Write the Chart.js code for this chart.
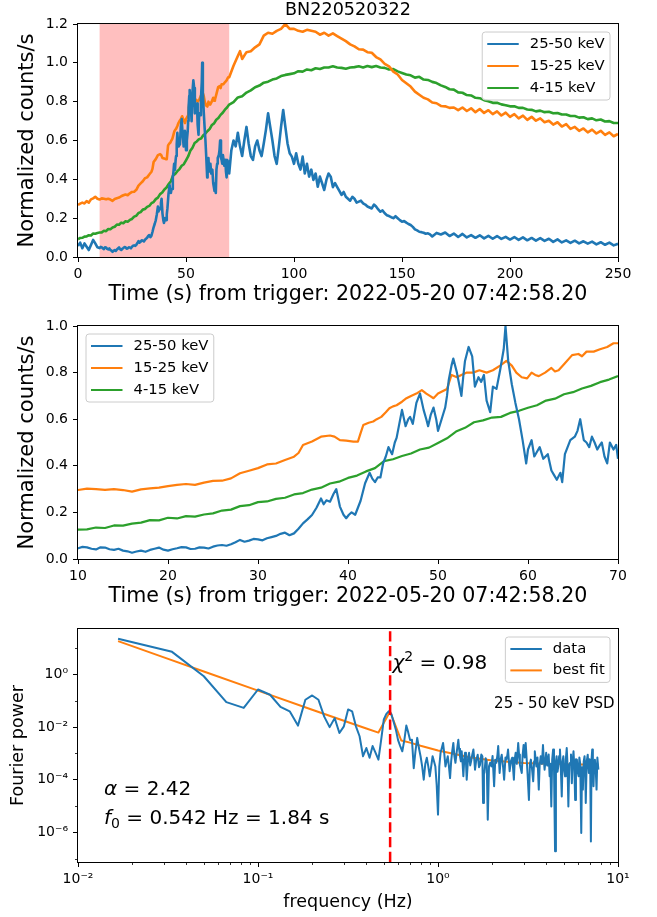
<!DOCTYPE html>
<html>
<head>
<meta charset="utf-8">
<title>BN220520322</title>
<script src="https://cdn.jsdelivr.net/npm/chart.js@4.4.1/dist/chart.umd.min.js"></script>
<style>
  html, body { margin: 0; padding: 0; background: #fff; }
  #page { position: relative; width: 657px; height: 917px; overflow: hidden; }
  canvas { position: absolute; left: 0; }
</style>
</head>
<body>
<div id="page">
  <canvas id="lcFull" width="657" height="310" style="top:0"></canvas>
  <canvas id="lcZoom" width="657" height="310" style="top:302px"></canvas>
  <canvas id="psd" width="657" height="312" style="top:605px"></canvas>
</div>
<script>
const burstName = 'BN220520322';
const triggerTime = '2022-05-20 07:42:58.20';
const bandLabels = ['25-50 keV', '15-25 keV', '4-15 keV'];
const psdLabels = ['data', 'best fit'];

// 25-50 keV light curve
const hardTime = [
  0, 1, 2, 3, 4, 5, 6, 7, 8, 9,
  10, 10.5, 11, 11.5, 12, 12.5, 13, 13.5, 14, 14.5,
  15, 15.5, 16, 16.5, 17, 17.5, 18, 18.5, 19, 19.5,
  20, 20.5, 21, 21.5, 22, 22.5, 23, 23.5, 24, 24.5,
  25, 25.5, 26, 26.5, 27, 27.5, 28, 28.5, 29, 29.5,
  30, 30.5, 31, 31.5, 32, 32.5, 33, 33.5, 34, 34.5,
  35, 35.5, 36, 36.5, 37, 37.3, 37.6, 38, 38.4, 38.7,
  39.1, 39.5, 39.8, 40.1, 40.4, 40.8, 41.1, 41.4, 41.9, 42.4,
  42.7, 43, 43.3, 43.6, 43.9, 44.2, 44.5, 44.9, 45.2, 45.4,
  45.7, 46, 46.4, 46.7, 46.9, 47.2, 47.6, 48, 48.4, 48.7,
  48.9, 49.2, 49.5, 49.8, 50, 50.4, 50.8, 51, 51.2, 51.5,
  51.7, 52.1, 52.4, 52.6, 52.8, 53, 53.4, 53.8, 54.1, 54.5,
  54.8, 55.1, 55.4, 55.8, 56.1, 56.5, 56.9, 57.3, 57.5, 57.8,
  58.2, 58.6, 59, 59.4, 59.8, 60, 60.4, 60.7, 61, 61.3,
  61.7, 62.2, 62.6, 62.9, 63.2, 63.6, 63.8, 64.1, 64.4, 64.7,
  65.2, 65.5, 65.8, 66.2, 66.5, 66.8, 67.1, 67.4, 67.7, 68,
  68.2, 68.5, 68.8, 69.1, 69.5, 69.8, 70, 71, 72, 73,
  74, 75, 76, 77, 78, 79, 80, 81, 82, 83,
  84, 85, 86, 87, 88, 89, 90, 91, 92, 93,
  94, 95, 96, 97, 98, 99, 100, 101, 102, 103,
  104, 105, 106, 107, 108, 109, 110, 111, 112, 113,
  114, 115, 116, 117, 118, 119, 120, 121, 122, 123,
  124, 125, 126, 127, 128, 129, 130, 131, 132, 133,
  134, 135, 136, 137, 138, 139, 140, 141, 142, 143,
  144, 145, 146, 147, 148, 149, 150, 151, 152, 153,
  154, 155, 156, 157, 158, 159, 160, 161, 162, 163,
  164, 166, 168, 170, 172, 174, 176, 178, 180, 182,
  184, 186, 188, 190, 192, 194, 196, 198, 200, 202,
  204, 206, 208, 210, 212, 214, 216, 218, 220, 222,
  224, 226, 228, 230, 232, 234, 236, 238, 240, 242,
  244, 246, 248, 250
];
const hardRate = [
  0.057, 0.074, 0.045, 0.070, 0.053, 0.036, 0.062, 0.088, 0.070, 0.050,
  0.046, 0.052, 0.050, 0.044, 0.041, 0.050, 0.049, 0.042, 0.039, 0.044,
  0.036, 0.033, 0.027, 0.032, 0.036, 0.031, 0.039, 0.044, 0.049, 0.040,
  0.036, 0.042, 0.046, 0.051, 0.050, 0.043, 0.044, 0.050, 0.049, 0.045,
  0.053, 0.058, 0.060, 0.057, 0.063, 0.072, 0.082, 0.074, 0.079, 0.086,
  0.084, 0.080, 0.089, 0.094, 0.099, 0.108, 0.113, 0.102, 0.110, 0.130,
  0.153, 0.170, 0.189, 0.220, 0.260, 0.235, 0.252, 0.246, 0.280, 0.300,
  0.225, 0.190, 0.175, 0.190, 0.200, 0.190, 0.220, 0.250, 0.325, 0.370,
  0.345, 0.330, 0.350, 0.350, 0.410, 0.440, 0.480, 0.450, 0.500, 0.520,
  0.580, 0.640, 0.570, 0.600, 0.610, 0.580, 0.670, 0.710, 0.640, 0.600,
  0.570, 0.620, 0.650, 0.600, 0.550, 0.600, 0.650, 0.700, 0.770, 0.830,
  0.860, 0.800, 0.740, 0.700, 0.780, 0.850, 0.910, 0.870, 0.740, 0.780,
  0.760, 0.790, 0.680, 0.630, 0.740, 0.730, 0.810, 0.900, 1.000, 0.850,
  0.750, 0.670, 0.600, 0.510, 0.410, 0.470, 0.510, 0.440, 0.460, 0.480,
  0.430, 0.450, 0.380, 0.360, 0.340, 0.370, 0.330, 0.450, 0.480, 0.510,
  0.525, 0.550, 0.600, 0.510, 0.500, 0.480, 0.525, 0.500, 0.470, 0.490,
  0.500, 0.440, 0.410, 0.500, 0.470, 0.490, 0.430, 0.550, 0.600, 0.570,
  0.640, 0.570, 0.520, 0.600, 0.670, 0.585, 0.520, 0.500, 0.570, 0.600,
  0.550, 0.520, 0.585, 0.655, 0.740, 0.670, 0.600, 0.520, 0.480, 0.570,
  0.670, 0.757, 0.670, 0.585, 0.534, 0.517, 0.480, 0.534, 0.480, 0.450,
  0.517, 0.430, 0.480, 0.414, 0.450, 0.397, 0.430, 0.362, 0.414, 0.380,
  0.345, 0.397, 0.430, 0.414, 0.360, 0.380, 0.360, 0.340, 0.320, 0.335,
  0.310, 0.300, 0.290, 0.310, 0.300, 0.280, 0.285, 0.290, 0.276, 0.270,
  0.260, 0.255, 0.250, 0.270, 0.260, 0.245, 0.233, 0.240, 0.225, 0.215,
  0.211, 0.205, 0.200, 0.210, 0.200, 0.190, 0.182, 0.185, 0.177, 0.170,
  0.165, 0.155, 0.142, 0.137, 0.130, 0.128, 0.125, 0.120, 0.122, 0.116,
  0.106, 0.124, 0.116, 0.126, 0.108, 0.121, 0.103, 0.119, 0.101, 0.113,
  0.099, 0.112, 0.096, 0.109, 0.094, 0.108, 0.093, 0.104, 0.090, 0.103,
  0.088, 0.101, 0.086, 0.098, 0.084, 0.097, 0.083, 0.094, 0.078, 0.091,
  0.075, 0.086, 0.073, 0.084, 0.070, 0.081, 0.069, 0.079, 0.065, 0.076,
  0.063, 0.074, 0.060, 0.068
];

// 15-25 keV light curve
const midTime = [
  0, 1, 2, 3, 4, 5, 6, 7, 8, 9,
  10, 11, 12, 13, 14, 15, 16, 17, 18, 19,
  20, 21, 22, 23, 24, 25, 26, 27, 28, 29,
  30, 31, 32, 33, 34, 34.5, 35, 36, 37, 38,
  38.5, 39.1, 39.8, 40.6, 41.1, 41.4, 41.7, 42.3, 42.8, 43.2,
  43.7, 44.2, 44.6, 45, 45.4, 46, 46.5, 47, 47.6, 48.2,
  48.7, 49.1, 49.5, 50, 50.5, 51, 51.5, 52.1, 52.6, 53.2,
  53.9, 54.6, 55.4, 56.1, 56.9, 57.6, 58.2, 58.7, 59.3, 59.9,
  60.4, 60.8, 61.2, 61.9, 62.6, 63, 63.4, 64.1, 64.9, 65.6,
  66, 66.5, 67.3, 68, 68.8, 69.5, 70, 72, 74, 75,
  76, 78, 80, 82, 84, 86, 88, 90, 92, 94,
  96, 98, 100, 102, 104, 106, 108, 110, 112, 114,
  116, 118, 120, 122, 124, 126, 128, 130, 132, 134,
  136, 138, 140, 142, 144, 146, 148, 150, 152, 154,
  156, 158, 160, 162, 164, 166, 168, 170, 172, 174,
  176, 178, 180, 182, 184, 186, 188, 190, 192, 194,
  196, 198, 200, 202, 204, 206, 208, 210, 212, 214,
  216, 218, 220, 222, 224, 226, 228, 230, 232, 234,
  236, 238, 240, 242, 244, 246, 248, 250
];
const midRate = [
  0.268, 0.275, 0.280, 0.276, 0.288, 0.280, 0.297, 0.302, 0.310, 0.300,
  0.296, 0.302, 0.300, 0.297, 0.300, 0.296, 0.289, 0.299, 0.303, 0.306,
  0.313, 0.318, 0.322, 0.318, 0.328, 0.335, 0.336, 0.346, 0.368, 0.379,
  0.390, 0.406, 0.410, 0.425, 0.439, 0.455, 0.489, 0.504, 0.525, 0.530,
  0.525, 0.510, 0.508, 0.504, 0.504, 0.540, 0.575, 0.585, 0.590, 0.600,
  0.610, 0.630, 0.647, 0.655, 0.660, 0.675, 0.690, 0.700, 0.710, 0.725,
  0.710, 0.700, 0.690, 0.710, 0.720, 0.730, 0.790, 0.780, 0.790, 0.800,
  0.800, 0.810, 0.800, 0.810, 0.830, 0.850, 0.830, 0.800, 0.780, 0.775,
  0.800, 0.790, 0.785, 0.800, 0.820, 0.805, 0.810, 0.840, 0.875, 0.880,
  0.870, 0.890, 0.890, 0.900, 0.910, 0.926, 0.926, 0.985, 1.035, 1.060,
  1.020, 1.055, 1.060, 1.080, 1.095, 1.140, 1.155, 1.150, 1.165, 1.175,
  1.200, 1.175, 1.175, 1.165, 1.160, 1.170, 1.165, 1.160, 1.145, 1.155,
  1.140, 1.152, 1.138, 1.125, 1.112, 1.095, 1.085, 1.070, 1.068, 1.055,
  1.052, 1.030, 1.018, 0.995, 0.982, 0.955, 0.940, 0.912, 0.895, 0.878,
  0.852, 0.836, 0.820, 0.812, 0.796, 0.792, 0.778, 0.776, 0.768, 0.770,
  0.756, 0.770, 0.752, 0.766, 0.746, 0.762, 0.742, 0.756, 0.736, 0.750,
  0.729, 0.744, 0.722, 0.736, 0.714, 0.728, 0.706, 0.722, 0.702, 0.714,
  0.694, 0.702, 0.682, 0.694, 0.672, 0.684, 0.660, 0.670, 0.650, 0.662,
  0.642, 0.656, 0.636, 0.650, 0.629, 0.642, 0.622, 0.634
];

// 4-15 keV light curve
const softTime = [
  0, 1, 2, 3, 4, 5, 6, 7, 8, 9,
  10, 11, 12, 13, 14, 15, 16, 17, 18, 19,
  20, 21, 22, 23, 24, 25, 26, 27, 28, 29,
  30, 31, 32, 33, 34, 35, 36, 37, 38, 39,
  40, 41, 42, 43, 44, 45, 46, 47, 48, 49,
  50, 51, 52, 53, 54, 55, 56, 57, 58, 59,
  60, 61, 62, 63, 64, 65, 66, 67, 68, 69,
  70, 72, 74, 76, 78, 80, 82, 84, 86, 88,
  90, 92, 94, 96, 98, 100, 102, 104, 106, 108,
  110, 112, 114, 116, 118, 120, 122, 124, 126, 128,
  130, 132, 134, 136, 138, 140, 142, 144, 146, 148,
  150, 152, 154, 156, 158, 160, 162, 164, 166, 168,
  170, 172, 174, 176, 178, 180, 182, 184, 186, 188,
  190, 192, 194, 196, 198, 200, 202, 204, 206, 208,
  210, 212, 214, 216, 218, 220, 222, 224, 226, 228,
  230, 232, 234, 236, 238, 240, 242, 244, 246, 248, 250
];
const softRate = [
  0.091, 0.098, 0.099, 0.105, 0.106, 0.112, 0.111, 0.121, 0.120, 0.124,
  0.126, 0.127, 0.135, 0.133, 0.144, 0.143, 0.152, 0.156, 0.167, 0.166,
  0.177, 0.174, 0.184, 0.182, 0.191, 0.196, 0.208, 0.212, 0.227, 0.231,
  0.244, 0.247, 0.258, 0.263, 0.277, 0.283, 0.298, 0.306, 0.324, 0.332,
  0.348, 0.358, 0.376, 0.390, 0.420, 0.428, 0.442, 0.453, 0.470, 0.478,
  0.498, 0.518, 0.547, 0.563, 0.587, 0.595, 0.607, 0.610, 0.627, 0.636,
  0.649, 0.660, 0.680, 0.688, 0.707, 0.716, 0.732, 0.743, 0.759, 0.770,
  0.785, 0.798, 0.822, 0.828, 0.847, 0.858, 0.874, 0.883, 0.898, 0.903,
  0.914, 0.920, 0.932, 0.938, 0.942, 0.946, 0.957, 0.955, 0.966, 0.962,
  0.972, 0.968, 0.976, 0.976, 0.982, 0.976, 0.974, 0.970, 0.976, 0.978,
  0.982, 0.976, 0.984, 0.978, 0.984, 0.976, 0.974, 0.966, 0.968, 0.956,
  0.948, 0.940, 0.936, 0.924, 0.928, 0.914, 0.912, 0.902, 0.896, 0.884,
  0.876, 0.864, 0.862, 0.848, 0.846, 0.834, 0.832, 0.820, 0.818, 0.808,
  0.802, 0.794, 0.794, 0.786, 0.782, 0.776, 0.776, 0.768, 0.768, 0.760,
  0.758, 0.750, 0.754, 0.746, 0.748, 0.740, 0.742, 0.734, 0.734, 0.726,
  0.726, 0.718, 0.720, 0.710, 0.714, 0.704, 0.708, 0.698, 0.700, 0.690, 0.690
];

// power spectrum of the 25-50 keV band, 10-70 s window
const psdFreq = [
  0.0167, 0.0333, 0.05, 0.0667, 0.0833, 0.1, 0.1167, 0.1333, 0.15, 0.1667,
  0.1833, 0.2, 0.2167, 0.2333, 0.25, 0.2667, 0.2833, 0.3, 0.3167, 0.3333,
  0.35, 0.3667, 0.3833, 0.4, 0.4167, 0.4333, 0.45, 0.4667, 0.4833, 0.5,
  0.5167, 0.5333, 0.55, 0.5667, 0.5833, 0.6, 0.6167, 0.6333, 0.65, 0.6667,
  0.6833, 0.7, 0.7167, 0.7333, 0.75, 0.7667, 0.7833, 0.8, 0.8167, 0.8333,
  0.85, 0.8667, 0.8833, 0.9, 0.9167, 0.9333, 0.95, 0.9667, 0.9833, 1.0,
  1.0167, 1.0333, 1.05, 1.0667, 1.0833, 1.1, 1.1167, 1.1333, 1.15, 1.1667,
  1.1833, 1.2, 1.2167, 1.2333, 1.25, 1.27, 1.297, 1.31, 1.325, 1.34,
  1.354, 1.37, 1.383, 1.40, 1.413, 1.43, 1.444, 1.47, 1.488, 1.51,
  1.527, 1.55, 1.573, 1.59, 1.606, 1.63, 1.662, 1.69, 1.712, 1.74,
  1.764, 1.78, 1.80, 1.81, 1.84, 1.865, 1.89, 1.92, 1.948, 1.98,
  2.01, 2.05, 2.08, 2.11, 2.14, 2.16, 2.2, 2.23, 2.26, 2.30,
  2.33, 2.37, 2.40, 2.43, 2.45, 2.50, 2.54, 2.58, 2.61, 2.64,
  2.67, 2.70, 2.74, 2.79, 2.82, 2.85, 2.92, 2.95, 2.99, 3.03,
  3.07, 3.11, 3.15, 3.20, 3.24, 3.28, 3.33, 3.38, 3.42, 3.45,
  3.52, 3.57, 3.63, 3.67, 3.72, 3.78, 3.83, 3.87, 3.91, 3.95,
  3.99, 4.04, 4.08, 4.12, 4.17, 4.21, 4.26, 4.31, 4.36, 4.41,
  4.47, 4.52, 4.56, 4.61, 4.66, 4.71, 4.76, 4.81, 4.87, 4.92,
  4.97, 5.02, 5.08, 5.13, 5.19, 5.24, 5.30, 5.36, 5.42, 5.48,
  5.54, 5.60, 5.66, 5.72, 5.78, 5.84, 5.91, 5.97, 6.04, 6.10,
  6.17, 6.25, 6.31, 6.38, 6.45, 6.52, 6.57, 6.62, 6.70, 6.79,
  6.84, 6.89, 6.95, 7.01, 7.07, 7.13, 7.19, 7.25, 7.31, 7.37,
  7.44, 7.52, 7.60, 7.68, 7.78
];
const psdPower = [
  23, 7.3, 0.86, 0.089, 0.054, 0.27, 0.17, 0.059, 0.040, 0.0114,
  0.11, 0.16, 0.11, 0.025, 0.010, 0.022, 0.006, 0.0107, 0.047, 0.04,
  0.0107, 0.0045, 7.8e-4, 1.6e-3, 6.8e-4, 1.9e-3, 1.05e-3, 5.8e-4, 3.3e-3, 0.0195,
  0.032, 0.04, 0.032, 0.016, 0.008, 3.2e-3, 1.9e-3, 1.2e-3, 3.2e-3, 0.0115,
  6.3e-3, 3.2e-3, 3.3e-3, 2.75e-4, 1.26e-3, 3.9e-3, 1.6e-3, 7.8e-4, 3.2e-4, 1.0e-4,
  4.0e-4, 6.8e-4, 3.2e-4, 1.35e-4, 3.2e-4, 7.8e-4, 5.0e-4, 3.2e-4, 6.3e-5, 4.7e-6,
  3.2e-4, 1.05e-3, 1.6e-3, 2.5e-3, 1.0e-3, 3.2e-4, 5.0e-4, 7.8e-4, 3.2e-4, 1.15e-4,
  5.0e-4, 1.26e-3, 2.5e-3, 7.9e-4, 4.4e-4, 1.1e-3, 3.3e-3, 1.5e-3, 7.8e-4, 5.0e-4,
  1.2e-3, 4.0e-4, 1.35e-4, 6.0e-4, 1.05e-3, 4.5e-4, 1.0e-4, 7.0e-4, 1.05e-3, 3.5e-4,
  5.0e-4, 9.0e-4, 1.4e-3, 6.0e-4, 2.4e-4, 5.5e-4, 8.9e-4, 3.0e-4, 3.7e-4, 9.0e-4,
  7.8e-4, 1.3e-5, 2.2e-4, 1.8e-4, 6.5e-4, 5.0e-4, 3.0e-6, 3.2e-4, 4.4e-4, 3.2e-4,
  8.0e-4, 5.6e-5, 5.8e-4, 4.4e-4, 9.0e-4, 1.9e-3, 1.8e-4, 6.0e-4, 8.9e-4, 3.0e-4,
  1.0e-4, 7.0e-4, 5.8e-4, 9.0e-4, 1.4e-3, 2.1e-4, 5.0e-4, 6.8e-4, 3.0e-4, 1.0e-4,
  6.0e-4, 1.05e-3, 4.0e-4, 2.5e-3, 9.0e-4, 3.7e-4, 1.8e-4, 8.0e-4, 2.1e-3, 7.0e-4,
  2.5e-3, 6.0e-4, 1.35e-4, 1.7e-5, 4.0e-4, 5.8e-4, 2.5e-4, 8.7e-5, 5.0e-4, 1.2e-3,
  3.2e-4, 7.0e-4, 4.2e-5, 3.5e-4, 7.8e-4, 4.0e-4, 2.1e-3, 6.0e-4, 2.4e-4, 5.0e-4,
  1.05e-3, 3.5e-4, 5.8e-4, 9.0e-4, 1.35e-4, 4.0e-4, 9.6e-6, 6.0e-4, 1.4e-3, 3.0e-4,
  1.9e-7, 5.0e-4, 7.8e-4, 2.0e-4, 3.2e-4, 8.0e-4, 1.4e-3, 3.0e-4, 2.3e-5, 5.0e-4,
  7.8e-4, 2.5e-4, 1.35e-4, 6.0e-4, 1.6e-3, 4.0e-4, 9.6e-6, 3.5e-4, 4.4e-4, 9.0e-4,
  7.4e-5, 5.0e-4, 1.2e-3, 3.0e-4, 1.7e-5, 6.0e-4, 5.8e-4, 2.0e-4, 1.35e-4, 7.0e-4,
  4.0e-4, 9.3e-7, 3.0e-4, 4.2e-5, 5.0e-4, 7.8e-4, 2.5e-4, 1.3e-5, 5.0e-4, 8.9e-4,
  3.5e-4, 1.8e-4, 6.0e-4, 3.0e-4, 4.5e-7, 6.0e-4, 1.4e-3, 4.0e-4, 5.6e-5, 3.5e-4,
  5.8e-4, 2.5e-4, 4.2e-5, 7.0e-4, 2.4e-4
];

// broken power law + QPO bump
const fitFreq = [0.0167, 0.03, 0.05, 0.1, 0.2, 0.3, 0.4, 0.4667, 0.5417, 0.625,
                 0.7, 0.8, 1.0, 1.5, 2, 3, 4, 5, 6, 7.78];
const fitPower = [18.6, 4.5, 1.31, 0.245, 0.046, 0.0175, 0.0089, 0.0062, 0.039, 0.0031,
                  0.00257, 0.00196, 0.0013, 0.00072, 0.00054, 0.000435, 0.0004, 0.00039, 0.00038, 0.000377];

const windowStart = 10, windowEnd = 70;
const alphaFit = 2.42, peakFreq = 0.542, peakPeriod = 1.84, chiSq = 0.98;

const FAMILY = 'DejaVu Sans';
const bandColors = ['#1f77b4', '#ff7f0e', '#2ca02c'];

function pairs(xs, ys) {
  return xs.map((x, i) => ({ x: x, y: ys[i] }));
}

const SUP = { '-': '\u207B', '0': '\u2070', '1': '\u00B9', '2': '\u00B2', '3': '\u00B3',
              '4': '\u2074', '5': '\u2075', '6': '\u2076', '7': '\u2077', '8': '\u2078', '9': '\u2079' };
function powLabel(v) {
  const e = Math.round(Math.log10(v));
  return '10' + String(e).split('').map(c => SUP[c]).join('');
}

// black box around the axes
const framePlugin = {
  id: 'frame',
  afterDraw(chart) {
    const { ctx, chartArea: a } = chart;
    ctx.save();
    ctx.strokeStyle = '#000';
    ctx.lineWidth = 1;
    ctx.strokeRect(a.left - 0.5, a.top - 0.5, a.right - a.left + 1, a.bottom - a.top + 1);
    ctx.restore();
  }
};

// legend box inside the axes corner
const boxLegend = {
  id: 'boxLegend',
  afterDraw(chart, args, opts) {
    if (!opts || !opts.corner) return;
    const { ctx, chartArea: a } = chart;
    const items = chart.data.datasets.filter(d => d.label);
    ctx.save();
    ctx.font = opts.fontSize + 'px "' + FAMILY + '"';
    const textW = Math.max(...items.map(d => ctx.measureText(d.label).width));
    const w = 47.5 + textW + 5.3;
    const h = 24 + opts.rowGap * (items.length - 1);
    const x = opts.corner === 'right' ? a.right - 8 - w : a.left + 8;
    const y = a.top + 8;
    ctx.beginPath();
    ctx.roundRect(x, y, w, h, 3);
    ctx.fillStyle = 'rgba(255,255,255,0.8)';
    ctx.fill();
    ctx.strokeStyle = '#cccccc';
    ctx.lineWidth = 1;
    ctx.stroke();
    items.forEach((d, i) => {
      const ry = y + 12 + opts.rowGap * i;
      ctx.strokeStyle = d.borderColor;
      ctx.lineWidth = 2;
      ctx.beginPath();
      ctx.moveTo(x + 5, ry);
      ctx.lineTo(x + 36.5, ry);
      ctx.stroke();
      ctx.fillStyle = '#000';
      ctx.textBaseline = 'middle';
      ctx.textAlign = 'left';
      ctx.fillText(d.label, x + 47.5, ry);
    });
    ctx.restore();
  }
};

// highlighted analysis window
const spanShade = {
  id: 'spanShade',
  beforeDatasetsDraw(chart, args, opts) {
    const { ctx, chartArea: a, scales } = chart;
    const x0 = scales.x.getPixelForValue(opts.from);
    const x1 = scales.x.getPixelForValue(opts.to);
    ctx.save();
    ctx.fillStyle = 'rgba(255, 0, 0, 0.25)';
    ctx.fillRect(x0, a.top, x1 - x0, a.bottom - a.top);
    ctx.restore();
  }
};

function mathRun(ctx, x, baseline, parts) {
  parts.forEach(p => {
    ctx.font = (p.italic ? 'italic ' : '') + p.size + 'px "' + FAMILY + '"';
    ctx.fillText(p.t, x, baseline + (p.dy || 0));
    x += ctx.measureText(p.t).width;
  });
}

// QPO marker, fit text and log minor ticks
const psdNotes = {
  id: 'psdNotes',
  afterDatasetsDraw(chart) {
    const { ctx, chartArea: a, scales } = chart;
    const xf = scales.x.getPixelForValue(peakFreq);
    ctx.save();
    ctx.strokeStyle = '#ff0000';
    ctx.lineWidth = 2.5;
    ctx.setLineDash([10.3, 4.4]);
    ctx.beginPath();
    ctx.moveTo(xf, a.bottom);
    ctx.lineTo(xf, a.top);
    ctx.stroke();
    ctx.restore();
  },
  afterDraw(chart) {
    const { ctx, chartArea: a, scales } = chart;
    ctx.save();
    ctx.strokeStyle = '#000';
    ctx.lineWidth = 0.8;
    for (let n = -2; n <= 0; n++) {
      for (let m = 2; m <= 9; m++) {
        const px = Math.round(scales.x.getPixelForValue(m * Math.pow(10, n))) + 0.5;
        ctx.beginPath();
        ctx.moveTo(px, a.bottom);
        ctx.lineTo(px, a.bottom + 3);
        ctx.stroke();
      }
    }
    [10, 0.1, 1e-3, 1e-5, 1e-7].forEach(v => {
      const py = Math.round(scales.y.getPixelForValue(v)) + 0.5;
      ctx.beginPath();
      ctx.moveTo(a.left, py);
      ctx.lineTo(a.left - 3, py);
      ctx.stroke();
    });

    ctx.fillStyle = '#000';
    ctx.textBaseline = 'alphabetic';
    ctx.textAlign = 'left';
    mathRun(ctx, a.left + 26, a.top + 166, [
      { t: '\u03B1', italic: true, size: 20 },
      { t: ' = ' + alphaFit.toFixed(2), size: 20 }
    ]);
    mathRun(ctx, a.left + 26, a.top + 195, [
      { t: 'f', italic: true, size: 20 },
      { t: '0', size: 14, dy: 4 },
      { t: ' = ' + peakFreq.toFixed(3) + ' Hz = ' + peakPeriod.toFixed(2) + ' s', size: 20 }
    ]);
    const xf = scales.x.getPixelForValue(peakFreq);
    mathRun(ctx, xf + 2.3, a.top + 40.3, [
      { t: '\u03C7', italic: true, size: 20 },
      { t: '2', size: 14, dy: -8.5 },
      { t: ' = ' + chiSq.toFixed(2), size: 20 }
    ]);
    ctx.font = '15px "' + FAMILY + '"';
    ctx.textAlign = 'right';
    ctx.fillText('25 - 50 keV PSD', a.right - 3.5, a.top + 79.3);
    ctx.restore();
  }
};

const tickFont = { family: FAMILY, size: 14 };
const tickGrid = { drawOnChartArea: false, drawTicks: true, tickLength: 5, color: '#000', lineWidth: 1 };

function bottomAxis(extra, height, titleText, titleSize, titlePad) {
  return Object.assign({
    position: 'bottom',
    grid: tickGrid,
    border: { display: false },
    title: { display: true, text: titleText, color: '#000',
             font: { family: FAMILY, size: titleSize }, padding: { top: 0, bottom: titlePad } },
    afterFit(scale) { scale.height = height; }
  }, extra);
}

function leftAxis(extra, titleText, titleSize, titlePad) {
  return Object.assign({
    position: 'left',
    grid: tickGrid,
    border: { display: false },
    title: { display: true, text: titleText, color: '#000',
             font: { family: FAMILY, size: titleSize }, padding: { top: titlePad, bottom: 0 } },
    afterFit(scale) { scale.width = 78; }
  }, extra);
}

function lightCurveSets() {
  return [
    { label: bandLabels[0], data: pairs(hardTime, hardRate), borderColor: bandColors[0] },
    { label: bandLabels[1], data: pairs(midTime, midRate), borderColor: bandColors[1] },
    { label: bandLabels[2], data: pairs(softTime, softRate), borderColor: bandColors[2] }
  ];
}

function lineElements(width) {
  return {
    point: { radius: 0 },
    line: { borderWidth: width, tension: 0, borderJoinStyle: 'round', fill: false }
  };
}
const timeTitle = 'Time (s) from trigger: ' + triggerTime;
const countsTitle = 'Normalized counts/s';

new Chart(document.getElementById('lcFull'), {
  type: 'line',
  data: { datasets: lightCurveSets() },
  options: {
    responsive: false, animation: false, events: [],
    layout: { padding: { top: 0, right: 39, bottom: 0, left: 0 } },
    elements: lineElements(2.6),
    scales: {
      x: bottomAxis({ type: 'linear', min: 0, max: 250,
                      ticks: { font: tickFont, color: '#000', padding: 3.5, stepSize: 50,
                               autoSkip: false, maxRotation: 0 } },
                    53, timeTitle, 20.6, 3),
      y: leftAxis({ type: 'linear', min: 0, max: 1.2,
                    ticks: { font: tickFont, color: '#000', padding: 5, stepSize: 0.2,
                             callback: v => v.toFixed(1) } },
                  countsTitle, 21, 14.6)
    },
    plugins: {
      legend: { display: false },
      tooltip: { enabled: false },
      title: { display: true, text: burstName, fullSize: false, color: '#000',
               font: { family: FAMILY, size: 17.6, weight: 'normal' },
               padding: { top: 0, bottom: 2.9 } },
      spanShade: { from: windowStart, to: windowEnd },
      boxLegend: { corner: 'right', fontSize: 14.8, rowGap: 22 }
    }
  },
  plugins: [spanShade, framePlugin, boxLegend]
});

new Chart(document.getElementById('lcZoom'), {
  type: 'line',
  data: { datasets: lightCurveSets() },
  options: {
    responsive: false, animation: false, events: [],
    layout: { padding: { top: 24, right: 39, bottom: 0, left: 0 } },
    elements: lineElements(2.2),
    scales: {
      x: bottomAxis({ type: 'linear', min: windowStart, max: windowEnd,
                      ticks: { font: tickFont, color: '#000', padding: 3.5, stepSize: 10,
                               autoSkip: false, maxRotation: 0 } },
                    53, timeTitle, 20.6, 3),
      y: leftAxis({ type: 'linear', min: 0, max: 1.0,
                    ticks: { font: tickFont, color: '#000', padding: 5, stepSize: 0.2,
                             callback: v => v.toFixed(1) } },
                  countsTitle, 21, 14.6)
    },
    plugins: {
      legend: { display: false },
      tooltip: { enabled: false },
      boxLegend: { corner: 'left', fontSize: 14.8, rowGap: 22 }
    }
  },
  plugins: [framePlugin, boxLegend]
});

new Chart(document.getElementById('psd'), {
  type: 'line',
  data: {
    datasets: [
      { label: psdLabels[0], data: pairs(psdFreq, psdPower), borderColor: bandColors[0] },
      { label: psdLabels[1], data: pairs(fitFreq, fitPower), borderColor: bandColors[1] }
    ]
  },
  options: {
    responsive: false, animation: false, events: [],
    layout: { padding: { top: 24, right: 39, bottom: 0, left: 0 } },
    elements: lineElements(2),
    scales: {
      x: bottomAxis({ type: 'logarithmic', min: 0.01, max: 10,
                      ticks: { font: tickFont, color: '#000', padding: 3.5, autoSkip: false,
                               maxRotation: 0, callback: v => powLabel(v) },
                      afterBuildTicks(scale) {
                        scale.ticks = [0.01, 0.1, 1, 10].map(v => ({ value: v, major: true }));
                      } },
                    55, 'frequency (Hz)', 17.5, 4.5),
      y: leftAxis({ type: 'logarithmic', min: 7.4e-8, max: 54,
                    ticks: { font: tickFont, color: '#000', padding: 5, autoSkip: false,
                             callback: v => powLabel(v) },
                    afterBuildTicks(scale) {
                      scale.ticks = [1e-6, 1e-4, 1e-2, 1].map(v => ({ value: v, major: true }));
                    } },
                  'Fourier power', 17.5, 7.8)
    },
    plugins: {
      legend: { display: false },
      tooltip: { enabled: false },
      boxLegend: { corner: 'right', fontSize: 14.8, rowGap: 21.4 }
    }
  },
  plugins: [psdNotes, framePlugin, boxLegend]
});
</script>
</body>
</html>
